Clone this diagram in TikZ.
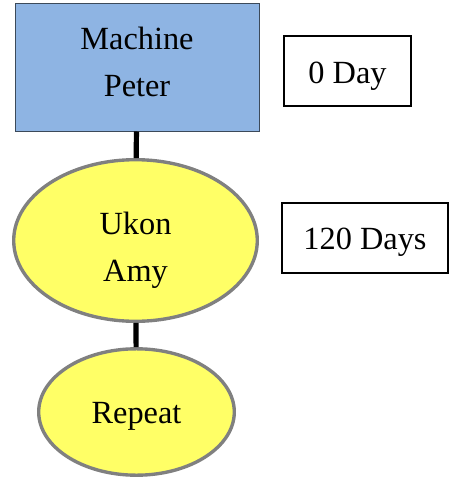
\documentclass[tikz,border=0pt]{standalone}
\usepackage{fontspec}
\setmainfont{Liberation Serif}
\usepackage{tikz}
\usetikzlibrary{positioning}
\usetikzlibrary{shapes.geometric}
\definecolor{boxblue}{HTML}{8EB4E3}
\definecolor{boxyellow}{HTML}{FFFF66}
\definecolor{rimgray}{HTML}{808080}
\definecolor{rimblue}{HTML}{3C4A5A}

\begin{document}
\begin{tikzpicture}
  [bluebox/.style={rectangle,draw=rimblue,fill=boxblue,line width=0.7pt,inner sep=0pt,minimum width=6.1cm,minimum height=3.2cm,align=center,font=\fontsize{23}{34}\selectfont},
  yellowball/.style={ellipse,draw=rimgray,fill=boxyellow,line width=2.4pt,inner sep=0pt,align=center,font=\fontsize{23}{34}\selectfont},
  daybox/.style={rectangle,draw=black,fill=white,line width=1.1pt,inner sep=0pt,minimum height=1.75cm,text depth=0pt,font=\fontsize{23}{34}\selectfont},
  link/.style={black,line width=3.7pt}]
  \useasboundingbox (0,0) rectangle (11.4,-11.975);
  \node[bluebox] (machine) at (3.425,-1.675) {\rule{0pt}{21.3pt}Machine\\Peter\rule[-12.8pt]{0pt}{12.8pt}};
  \node[daybox,minimum width=3.175cm,text height=18.4pt] (day0) at (8.6875,-1.775) {0 Day\hspace{7pt}};
  
  \node[yellowball,minimum width=6.09cm,minimum height=4.04cm] (ukon) at (3.3875,-6.0125) {\rule{0pt}{32.7pt}Ukon\\Amy\rule[-7.8pt]{0pt}{7.8pt}};
  \node[daybox,minimum width=4.15cm,text height=17pt] (day120) at (9.125,-5.95) {120 Days};
  
  \node[yellowball,minimum width=4.89cm,minimum height=3.16cm,text height=16.4pt,text depth=0pt] (repeat) at (3.4125,-10.3) {Repeat};
  
  \draw [link] (machine) -- (ukon);
  \draw [link] (ukon) -- (repeat);
  
  \end{tikzpicture}
\end{document}
